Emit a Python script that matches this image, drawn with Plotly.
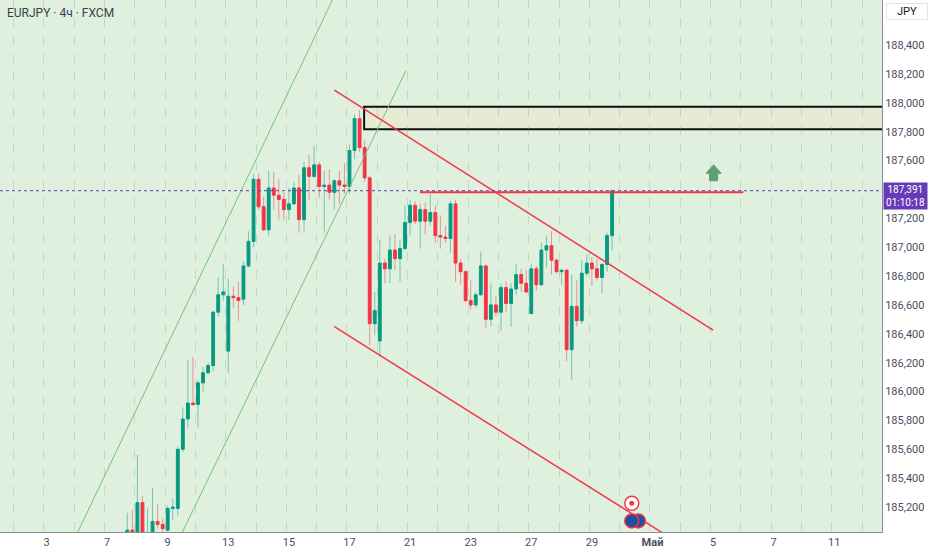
import plotly.graph_objects as go

# EURJPY 4h candles, x = candle number (0 = first candle of the "3" label day)
first_idx = 16
opens = [184.95, 185.04, 184.93, 185.23, 184.97, 185.00, 185.10, 185.08, 185.04, 185.19,
         185.19, 185.60, 185.81, 185.92, 185.91, 186.06, 186.13, 186.18, 186.55, 186.67,
         186.28, 186.66, 186.65, 186.64, 186.87, 187.04, 187.47, 187.28, 187.12, 187.41,
         187.36, 187.33, 187.26, 187.30, 187.41, 187.19, 187.55, 187.49, 187.57, 187.42,
         187.43, 187.38, 187.46, 187.43, 187.42, 187.67, 187.89, 187.69, 187.48, 186.47,
         186.35, 186.89, 186.85, 186.98, 186.92, 186.99, 187.17, 187.29, 187.18, 187.26,
         187.18, 187.24, 187.08, 187.07, 187.06, 187.30, 186.89, 186.83, 186.63, 186.60,
         186.67, 186.87, 186.50, 186.60, 186.55, 186.72, 186.61, 186.71, 186.81, 186.75,
         186.54, 186.85, 186.74, 186.98, 187.01, 186.91, 186.83, 186.84, 186.29, 186.59,
         186.49, 186.82, 186.89, 186.85, 186.79, 186.88, 187.08]
highs = [185.16, 185.18, 185.56, 185.28, 185.19, 185.33, 185.22, 185.12, 185.21, 185.26,
         185.62, 185.89, 186.22, 186.24, 186.08, 186.17, 186.20, 186.56, 186.79, 186.88,
         186.78, 186.73, 186.76, 186.90, 187.11, 187.51, 187.51, 187.35, 187.53, 187.52,
         187.47, 187.38, 187.41, 187.45, 187.50, 187.59, 187.64, 187.70, 187.59, 187.53,
         187.54, 187.47, 187.53, 187.58, 187.71, 187.92, 187.95, 187.74, 187.49, 186.69,
         187.05, 186.92, 187.08, 187.09, 187.05, 187.29, 187.33, 187.32, 187.30, 187.31,
         187.37, 187.29, 187.22, 187.15, 187.32, 187.33, 186.92, 186.84, 186.77, 186.69,
         186.97, 186.88, 186.75, 186.66, 186.75, 186.76, 186.75, 186.88, 186.85, 186.84,
         186.88, 186.87, 187.03, 187.08, 187.11, 186.92, 186.85, 186.85, 186.81, 186.77,
         186.91, 186.95, 186.93, 186.92, 186.89, 187.10, 187.40]
lows = [184.90, 184.90, 184.90, 184.95, 184.90, 184.96, 185.05, 185.03, 185.02, 185.11,
        185.14, 185.58, 185.75, 185.90, 185.75, 186.00, 186.12, 186.14, 186.52, 186.63,
        186.13, 186.58, 186.49, 186.60, 186.86, 187.00, 187.26, 187.11, 187.08, 187.26,
        187.19, 187.19, 187.19, 187.29, 187.10, 187.11, 187.33, 187.48, 187.34, 187.10,
        187.33, 187.26, 187.30, 187.37, 187.37, 187.61, 187.66, 187.45, 186.32, 186.39,
        186.24, 186.75, 186.75, 186.84, 186.76, 186.98, 187.08, 187.16, 186.99, 187.09,
        187.15, 187.03, 186.99, 187.03, 186.96, 186.76, 186.74, 186.62, 186.57, 186.58,
        186.66, 186.44, 186.45, 186.52, 186.42, 186.55, 186.45, 186.67, 186.69, 186.68,
        186.54, 186.70, 186.73, 186.86, 186.81, 186.82, 186.74, 186.21, 186.08, 186.45,
        186.47, 186.80, 186.73, 186.77, 186.68, 186.83, 186.98]
closes = [185.04, 184.93, 185.23, 184.98, 185.00, 185.10, 185.08, 185.05, 185.19, 185.20,
          185.60, 185.81, 185.92, 185.91, 186.06, 186.13, 186.18, 186.55, 186.67, 186.69,
          186.66, 186.65, 186.63, 186.87, 187.04, 187.47, 187.28, 187.12, 187.41, 187.36,
          187.33, 187.26, 187.30, 187.41, 187.19, 187.55, 187.49, 187.57, 187.42, 187.43,
          187.38, 187.46, 187.43, 187.42, 187.67, 187.89, 187.69, 187.48, 186.47, 186.56,
          186.89, 186.85, 186.98, 186.92, 186.99, 187.17, 187.29, 187.18, 187.26, 187.18,
          187.24, 187.08, 187.07, 187.06, 187.30, 186.89, 186.83, 186.63, 186.60, 186.67,
          186.87, 186.50, 186.60, 186.55, 186.72, 186.61, 186.71, 186.81, 186.75, 186.69,
          186.85, 186.74, 186.98, 187.01, 186.91, 186.83, 186.84, 186.29, 186.59, 186.49,
          186.82, 186.89, 186.85, 186.79, 186.88, 187.08, 187.391]

date_idx = [0, 12, 24, 36, 48, 60, 72, 84, 96, 108, 120, 132, 144, 156]
date_labels = ["3", "7", "9", "13", "15", "17", "21", "23", "27", "29", "<b>Май</b>", "5", "7", "11"]
price_ticks = [185.2, 185.4, 185.6, 185.8, 186.0, 186.2, 186.4, 186.6, 186.8, 187.0,
               187.2, 187.6, 187.8, 188.0, 188.2, 188.4]
price_labels = [f"{p:.3f}".replace(".", ",") for p in price_ticks]

last_price = 187.391
timer = "01:10:18"

# drawings (candle number, price)
green_ch1 = ([5.0, 57.5], [184.94, 188.777])
green_ch2 = ([26.0, 71.13], [184.96, 188.22])
red_top = ([57.0, 132.0], [188.088, 186.426])
red_bottom = ([57.0, 129.4], [186.449, 184.858])
red_level = ([74.0, 138.0], [187.38, 187.38])
zone = (62.9, 175.0, 187.816, 187.973)
arrow = (132.1, 187.46, 187.512, 187.57)

GREEN = "#089981"
RED = "#f23645"

x = list(range(first_idx, first_idx + len(opens)))

fig = go.Figure()

# wicks drawn lighter than the bodies
for up, col in [(True, "rgba(8,153,129,0.5)"), (False, "rgba(242,54,69,0.5)")]:
    wx, wy = [], []
    for i, o, h, l, c in zip(x, opens, highs, lows, closes):
        if (c >= o) == up:
            wx += [i, i, None]
            wy += [l, h, None]
    fig.add_trace(go.Scatter(x=wx, y=wy, mode="lines", line=dict(color=col, width=1),
                             hoverinfo="skip", showlegend=False))

fig.add_trace(go.Candlestick(
    x=x, open=opens, close=closes,
    high=[max(o, c) for o, c in zip(opens, closes)],
    low=[min(o, c) for o, c in zip(opens, closes)],
    increasing=dict(line=dict(color=GREEN, width=1), fillcolor=GREEN),
    decreasing=dict(line=dict(color=RED, width=1), fillcolor=RED),
    whiskerwidth=0, showlegend=False))

for (lx, ly), col, w in [(green_ch1, "#74c27a", 1), (green_ch2, "#74c27a", 1),
                         (red_top, RED, 1.5), (red_bottom, RED, 1.5), (red_level, RED, 2)]:
    fig.add_trace(go.Scatter(x=lx, y=ly, mode="lines", line=dict(color=col, width=w),
                             hoverinfo="skip", showlegend=False))

# event icons at the bottom
fig.add_trace(go.Scatter(x=[117.2], y=[185.104], mode="markers",
                         marker=dict(size=14, color="#1f4fa0", line=dict(color=RED, width=1.5)),
                         hoverinfo="skip", showlegend=False))
fig.add_trace(go.Scatter(x=[115.9, 115.9], y=[185.104, 185.226], mode="markers",
                         marker=dict(size=14, color=["#1f4fa0", "white"],
                                     line=dict(color=RED, width=1.5)),
                         hoverinfo="skip", showlegend=False))
fig.add_trace(go.Scatter(x=[115.9], y=[185.226], mode="markers",
                         marker=dict(size=5, color=RED), hoverinfo="skip", showlegend=False))

zx0, zx1, zy0, zy1 = zone
fig.add_shape(type="rect", xref="x", yref="y", x0=zx0, x1=zx1, y0=zy0, y1=zy1,
              fillcolor="#e6ecd3", line=dict(color="#111111", width=2), layer="below")

ax, ay0, ay1, ay2 = arrow
arrow_path = (f"M {ax-0.8},{ay0} L {ax-0.8},{ay1} L {ax-1.5},{ay1} L {ax},{ay2} "
              f"L {ax+1.5},{ay1} L {ax+0.8},{ay1} L {ax+0.8},{ay0} Z")
fig.add_shape(type="path", xref="x", yref="y", path=arrow_path,
              fillcolor="#5c9f72", line=dict(color="#5c9f72", width=1))

fig.add_shape(type="line", xref="paper", yref="y", x0=0, x1=1, y0=last_price, y1=last_price,
              line=dict(color="#673ab7", width=1, dash="dot"))

fig.add_annotation(xref="paper", yref="paper", x=0, y=1, xanchor="left", yanchor="top",
                   xshift=5, yshift=-4, text="EURJPY · 4ч · FXCM", showarrow=False,
                   font=dict(size=12, color="#3c3f4a"))
fig.add_annotation(xref="paper", yref="paper", x=1, y=1, xanchor="left", yanchor="top",
                   xshift=4, yshift=-3, text="JPY", showarrow=False, width=38,
                   bgcolor="white", bordercolor="#e0e3eb", borderwidth=1,
                   font=dict(size=11, color="#131722"))
fig.add_annotation(xref="paper", yref="y", x=1, y=last_price, xanchor="left", yanchor="middle",
                   xshift=1, yshift=-5, text=f"{last_price:.3f}".replace(".", ",") + "<br>" + timer,
                   showarrow=False, width=41, bgcolor="#673ab7", borderpad=1,
                   font=dict(size=10, color="white"))

fig.update_layout(
    width=932, height=550,
    margin=dict(l=0, r=50, t=0, b=18),
    paper_bgcolor="white",
    plot_bgcolor="#dff0df",
    font=dict(family="Roboto", size=11, color="#4a4e59"),
    showlegend=False,
    boxgap=0.2,
    xaxis=dict(range=[-9.21, 165.45], tickmode="array", tickvals=date_idx, ticktext=date_labels,
               showgrid=False, zeroline=False, showline=True, linecolor="#8a8d96", ticks="",
               rangeslider=dict(visible=False), fixedrange=True,
               minor=dict(tickmode="linear", tick0=-0.5, dtick=6, showgrid=True,
                          gridcolor="rgba(120,140,120,0.25)", griddash="dash", gridwidth=1)),
    yaxis=dict(range=[185.027, 188.712], side="right", tickmode="array", tickvals=price_ticks,
               ticktext=price_labels, showgrid=False, zeroline=False, showline=True,
               linecolor="#8a8d96", ticks="", fixedrange=True),
)

# the page's default body margin would push the chart 8px off
fig.write_html("out.html", config={"displayModeBar": False},
               post_script="document.body.style.margin='0';")
